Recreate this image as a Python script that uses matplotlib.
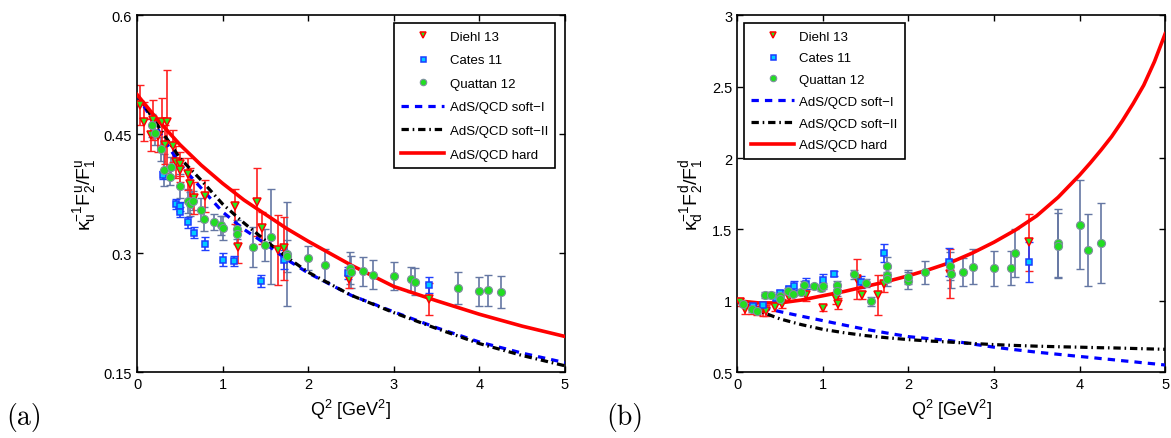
import numpy as np
import matplotlib
matplotlib.use("Agg")
import matplotlib.pyplot as plt

plt.rcParams['font.family'] = ['Liberation Sans', 'DejaVu Sans']
plt.rcParams['mathtext.fontset'] = 'custom'
plt.rcParams['mathtext.rm'] = 'Liberation Sans'
plt.rcParams['mathtext.it'] = 'Liberation Sans'
plt.rcParams['mathtext.default'] = 'regular'

# ---------------- (a) u quark ----------------
# Diehl 13
u_diehl_x = [0.03, 0.08, 0.16, 0.19, 0.24, 0.29, 0.33, 0.35, 0.42, 0.45, 0.50, 0.50, 0.60, 0.62,
             0.67, 0.79, 1.15, 1.18, 1.40, 1.46, 1.65, 1.72, 2.48, 3.41]
u_diehl_y = [0.487, 0.466, 0.449, 0.468, 0.448, 0.466, 0.437, 0.466, 0.435, 0.415, 0.412, 0.405,
             0.400, 0.387, 0.370, 0.372, 0.359, 0.308, 0.365, 0.332, 0.304, 0.306, 0.268, 0.242]
u_diehl_e = [0.025, 0.025, 0.02, 0.025, 0.02, 0.03, 0.025, 0.065, 0.02, 0.02, 0.015, 0.015, 0.02,
             0.02, 0.02, 0.02, 0.022, 0.02, 0.043, 0.02, 0.044, 0.04, 0.012, 0.02]
# Cates 11
u_cates_x = [0.30, 0.45, 0.50, 0.50, 0.60, 0.67, 0.80, 1.00, 1.13, 1.45, 1.72, 2.47, 3.41]
u_cates_y = [0.399, 0.362, 0.359, 0.352, 0.339, 0.326, 0.312, 0.292, 0.290, 0.265, 0.292, 0.275, 0.260]
u_cates_e = [0.005, 0.006, 0.006, 0.006, 0.007, 0.007, 0.008, 0.008, 0.006, 0.008, 0.012, 0.008, 0.010]
# Quattan 12
u_quat_x = [0.17, 0.21, 0.28, 0.32, 0.39, 0.40, 0.50, 0.59, 0.62, 0.65, 0.75, 0.78, 0.90, 0.98,
            1.00, 1.17, 1.17, 1.36, 1.50, 1.56, 1.75, 1.75, 2.00, 2.20, 2.49, 2.50, 2.64, 2.76,
            3.00, 3.20, 3.25, 3.75, 4.00, 4.10, 4.25]
u_quat_y = [0.461, 0.452, 0.431, 0.405, 0.396, 0.409, 0.385, 0.366, 0.362, 0.366, 0.355, 0.343,
            0.339, 0.335, 0.332, 0.330, 0.324, 0.308, 0.310, 0.321, 0.299, 0.296, 0.294, 0.285,
            0.281, 0.276, 0.277, 0.273, 0.271, 0.267, 0.264, 0.256, 0.252, 0.253, 0.251]
u_quat_e = [0.015, 0.015, 0.015, 0.02, 0.01, 0.012, 0.015, 0.015, 0.015, 0.012, 0.015, 0.015,
            0.01, 0.012, 0.015, 0.012, 0.012, 0.025, 0.02, 0.06, 0.065, 0.02, 0.015, 0.02, 0.02,
            0.02, 0.018, 0.018, 0.018, 0.016, 0.017, 0.02, 0.018, 0.02, 0.02]

# model curves
u_curve_x = [0, 0.25, 0.5, 0.75, 1, 1.25, 1.5, 1.75, 2, 2.5, 3, 3.5, 4, 4.5, 5]
u_soft1 = [0.500, 0.455, 0.412, 0.382, 0.352, 0.330, 0.312, 0.292, 0.275, 0.247, 0.226,
           0.206, 0.188, 0.174, 0.162]
u_soft2 = [0.500, 0.460, 0.420, 0.392, 0.362, 0.338, 0.316, 0.295, 0.276, 0.247, 0.225,
           0.205, 0.186, 0.171, 0.158]
u_hard = [0.500, 0.467, 0.437, 0.411, 0.388, 0.367, 0.349, 0.331, 0.315, 0.285, 0.258,
          0.240, 0.223, 0.208, 0.195]

# ---------------- (b) d quark ----------------
d_diehl_x = [0.03, 0.09, 0.17, 0.23, 0.30, 0.34, 0.44, 0.52, 0.60, 0.80, 1.00, 1.15, 1.18,
             1.40, 1.46, 1.65, 1.72, 2.49, 3.41]
d_diehl_y = [0.99, 0.94, 0.94, 0.93, 0.94, 0.93, 0.955, 0.98, 1.025, 1.04, 0.95, 1.02, 0.98,
             1.15, 1.04, 1.04, 1.12, 1.19, 1.41]
d_diehl_e = [0.03, 0.03, 0.03, 0.03, 0.05, 0.04, 0.03, 0.03, 0.03, 0.04, 0.02, 0.04, 0.04,
             0.14, 0.03, 0.14, 0.06, 0.17, 0.2]
d_cates_x = [0.19, 0.30, 0.45, 0.50, 0.60, 0.67, 0.80, 1.00, 1.13, 1.45, 1.72, 2.47, 3.41]
d_cates_y = [0.96, 0.97, 1.02, 1.055, 1.08, 1.105, 1.12, 1.145, 1.19, 1.13, 1.335, 1.27, 1.27]
d_cates_e = [0.02, 0.02, 0.02, 0.02, 0.02, 0.03, 0.04, 0.04, 0.02, 0.04, 0.06, 0.1, 0.14]
d_quat_x = [0.07, 0.17, 0.23, 0.33, 0.39, 0.50, 0.50, 0.59, 0.65, 0.75, 0.78, 0.90, 0.98, 1.00,
            1.17, 1.17, 1.36, 1.50, 1.56, 1.75, 1.75, 1.75, 2.00, 2.00, 2.20, 2.49, 2.50, 2.64,
            2.76, 3.00, 3.20, 3.25, 3.75, 3.75, 4.00, 4.10, 4.25]
d_quat_y = [0.98, 0.94, 0.925, 1.04, 1.04, 1.03, 1.01, 1.07, 1.05, 1.06, 1.11, 1.10, 1.09, 1.105,
            1.11, 1.065, 1.185, 1.125, 0.995, 1.245, 1.18, 1.15, 1.14, 1.165, 1.20, 1.245, 1.19,
            1.20, 1.24, 1.227, 1.232, 1.335, 1.404, 1.386, 1.533, 1.355, 1.404]
d_quat_e = [0.02, 0.02, 0.02, 0.02, 0.02, 0.02, 0.02, 0.02, 0.02, 0.02, 0.03, 0.02, 0.02, 0.02,
            0.03, 0.03, 0.03, 0.03, 0.03, 0.06, 0.05, 0.05, 0.06, 0.05, 0.08, 0.1, 0.1, 0.1,
            0.12, 0.125, 0.12, 0.17, 0.24, 0.23, 0.31, 0.25, 0.28]

d_curve_x = [0, 0.25, 0.5, 0.75, 1, 1.25, 1.5, 1.75, 2, 2.25, 2.5, 2.75, 3, 3.25, 3.5, 3.75,
             4, 4.125, 4.25, 4.375, 4.5, 4.625, 4.75, 4.875, 5]
d_soft1 = [1.0, 0.962, 0.924, 0.892, 0.861, 0.830, 0.800, 0.774, 0.749, 0.734, 0.720, 0.697,
           0.675, 0.657, 0.640, 0.625, 0.610, 0.603, 0.595, 0.588, 0.580, 0.573, 0.565, 0.558, 0.550]
d_soft2 = [1.0, 0.930, 0.873, 0.833, 0.800, 0.776, 0.756, 0.741, 0.728, 0.718, 0.710, 0.701,
           0.693, 0.687, 0.682, 0.678, 0.675, 0.673, 0.671, 0.670, 0.668, 0.666, 0.664, 0.662, 0.660]
d_hard = [1.0, 0.985, 0.985, 1.005, 1.035, 1.065, 1.100, 1.135, 1.175, 1.220, 1.270, 1.335,
          1.410, 1.495, 1.595, 1.725, 1.880, 1.965, 2.055, 2.150, 2.260, 2.380, 2.510, 2.675, 2.870]

fig = plt.figure(figsize=(11.71, 4.39), dpi=100)
ax1 = fig.add_axes([0.117, 0.150, 0.3655, 0.813])
ax2 = fig.add_axes([0.6295, 0.150, 0.3655, 0.813])

bar_q = '#6577a3'

def draw(ax, dx, dy, de, cx, cy, ce, qx, qy, qe, xs, s1, s2, hard, ylab):
    ax.errorbar(qx, qy, yerr=qe, fmt='none', ecolor=bar_q, elinewidth=1.2, capsize=3, zorder=2)
    ax.errorbar(dx, dy, yerr=de, fmt='none', ecolor='#ff2020', elinewidth=1.2, capsize=3, zorder=2)
    ax.errorbar(cx, cy, yerr=ce, fmt='none', ecolor='#2040ff', elinewidth=1.2, capsize=3, zorder=2)
    ax.plot(dx, dy, 'v', ms=5.5, mfc='#22ee22', mec='#ff0000', mew=1.1, ls='none', label='Diehl 13', zorder=4)
    ax.plot(cx, cy, 's', ms=4.5, mfc='#00ccff', mec='#1a3cff', mew=1.1, ls='none', label='Cates 11', zorder=4)
    ax.plot(qx, qy, 'o', ms=5.8, mfc='#22dd22', mec='#7f8f9f', mew=0.8, ls='none', label='Quattan 12', zorder=4)
    ax.plot(xs, s1, color='#0000ff', lw=2.3, ls=(0, (2.3, 1.9)), label='AdS/QCD soft\u2212I', zorder=3)
    ax.plot(xs, s2, color='black', lw=2.3, ls=(0, (2.3, 1.2, 0.5, 1.2)), label='AdS/QCD soft\u2212II', zorder=3)
    ax.plot(xs, hard, color='#ff0000', lw=2.6, label='AdS/QCD hard', zorder=3)
    ax.set_xlim(0, 5)
    ax.set_xticks([0, 1, 2, 3, 4, 5])
    ax.tick_params(direction='in', top=True, right=True, length=4.5, width=1, labelsize=10.5)
    for s in ax.spines.values():
        s.set_linewidth(1.2)
    ax.set_xlabel(r'Q$^2$ [GeV$^2$]', fontsize=13, labelpad=4)
    ax.set_ylabel(ylab, fontsize=14, labelpad=4)

draw(ax1, u_diehl_x, u_diehl_y, u_diehl_e, u_cates_x, u_cates_y, u_cates_e,
     u_quat_x, u_quat_y, u_quat_e, u_curve_x, u_soft1, u_soft2, u_hard,
     'κ$_u^{-1}$F$_2^u$/F$_1^u$')
ax1.set_ylim(0.15, 0.6)
ax1.set_yticks([0.15, 0.3, 0.45, 0.6])
ax1.set_yticklabels(['0.15', '0.3', '0.45', '0.6'])

draw(ax2, d_diehl_x, d_diehl_y, d_diehl_e, d_cates_x, d_cates_y, d_cates_e,
     d_quat_x, d_quat_y, d_quat_e, d_curve_x, d_soft1, d_soft2, d_hard,
     'κ$_d^{-1}$F$_2^d$/F$_1^d$')
ax2.set_ylim(0.5, 3)
ax2.set_yticks([0.5, 1, 1.5, 2, 2.5, 3])
ax2.set_yticklabels(['0.5', '1', '1.5', '2', '2.5', '3'])

for ax, loc, anchor, lsp in [(ax1, 'upper right', (0.977, 0.978), 0.86),
                             (ax2, 'upper left', (0.016, 0.978), 0.72)]:
    leg = ax.legend(loc=loc, bbox_to_anchor=anchor, borderaxespad=0, fontsize=9.5, numpoints=1,
                    handlelength=3.25, handletextpad=0.4, labelspacing=lsp, borderpad=0.55,
                    fancybox=False, framealpha=1, edgecolor='black', markerscale=0.8)
    leg.get_frame().set_linewidth(1.2)

fig.text(0.005, 0.032, '(a)', fontsize=20, family='cmr10')
fig.text(0.518, 0.032, '(b)', fontsize=20, family='cmr10')

fig.savefig('out.png', dpi=100)
